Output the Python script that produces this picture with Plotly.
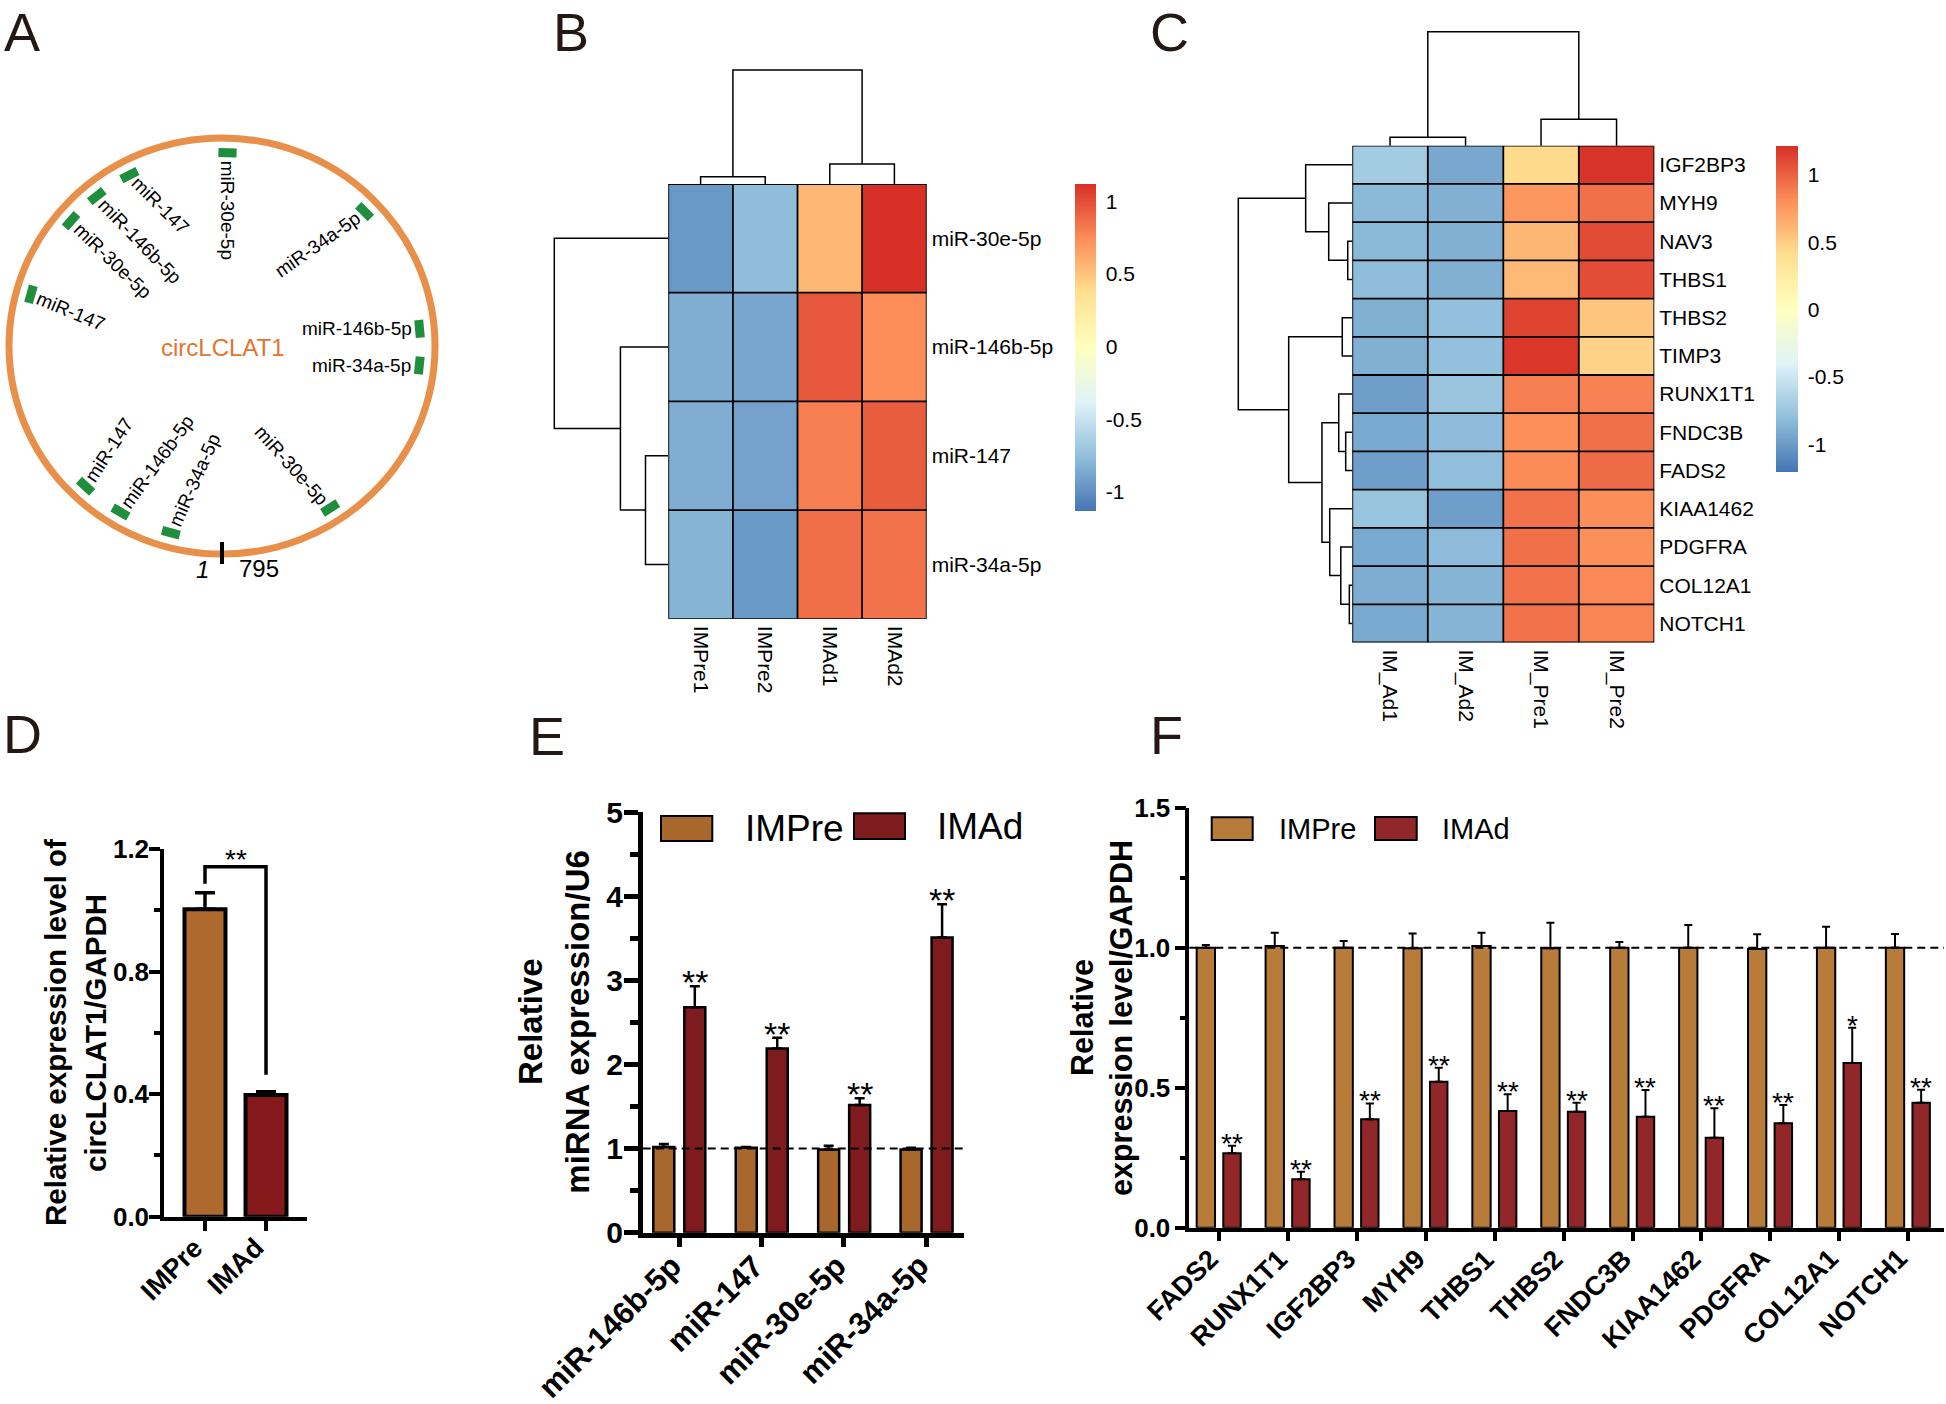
import math
import plotly.graph_objects as go

W, H = 1946, 1404
FONT = "Liberation Sans, Arial, Helvetica, sans-serif"

# ====================== DATA ======================
# Panel A: circRNA map (binding-site positions in nt)
circ_name = "circLCLAT1"
circ_length = 795
site_names = ["miR-34a-5p", "miR-146b-5p", "miR-147", "miR-147", "miR-30e-5p",
              "miR-146b-5p", "miR-147", "miR-30e-5p", "miR-34a-5p", "miR-146b-5p",
              "miR-34a-5p", "miR-30e-5p"]
site_positions = [33, 68, 96, 233, 288, 311, 336, 401, 499, 585, 609, 722]

# Panel B: miRNA heatmap (row z-scores)
b_rows = ["miR-30e-5p", "miR-146b-5p", "miR-147", "miR-34a-5p"]
b_cols = ["IMPre1", "IMPre2", "IMAd1", "IMAd2"]
b_z = [[-0.95, -0.76, 0.55, 1.12],
       [-0.84, -0.88, 0.96, 0.75],
       [-0.84, -0.90, 0.80, 0.94],
       [-0.81, -0.95, 0.87, 0.85]]
b_row_tree = [[2, 3, 0.20], [1, 4, 0.42], [0, 5, 1.00]]
b_col_tree = [[0, 1, 0.064], [2, 3, 0.175], [4, 5, 1.00]]
b_zrange = [-1.13, 1.12]

# Panel C: mRNA heatmap (row z-scores)
c_rows = ["IGF2BP3", "MYH9", "NAV3", "THBS1", "THBS2", "TIMP3", "RUNX1T1",
          "FNDC3B", "FADS2", "KIAA1462", "PDGFRA", "COL12A1", "NOTCH1"]
c_cols = ["IM_Ad1", "IM_Ad2", "IM_Pre1", "IM_Pre2"]
c_z = [[-0.71, -0.93, 0.44, 1.20],
       [-0.83, -0.88, 0.77, 0.94],
       [-0.83, -0.88, 0.61, 1.10],
       [-0.81, -0.88, 0.60, 1.09],
       [-0.88, -0.79, 1.13, 0.54],
       [-0.88, -0.79, 1.19, 0.48],
       [-0.98, -0.75, 0.87, 0.86],
       [-0.92, -0.82, 0.80, 0.94],
       [-0.98, -0.80, 0.82, 0.96],
       [-0.76, -0.98, 0.93, 0.81],
       [-0.92, -0.82, 0.94, 0.80],
       [-0.90, -0.86, 0.93, 0.83],
       [-0.92, -0.86, 0.93, 0.85]]
c_row_tree = [[2, 3, 0.040], [11, 12, 0.026], [7, 8, 0.058], [4, 5, 0.088],
              [10, 14, 0.101], [6, 15, 0.119], [9, 17, 0.198], [1, 13, 0.207],
              [18, 19, 0.266], [0, 20, 0.409], [16, 21, 0.558], [22, 23, 1.0]]
c_col_tree = [[0, 1, 0.074], [2, 3, 0.232], [4, 5, 1.00]]
c_zrange = [-1.204, 1.218]

# Panel D
d_groups = ["IMPre", "IMAd"]
d_mean = [1.003, 0.397]
d_sem = [0.054, 0.011]
d_sig = "**"

# Panel E
e_cats = ["miR-146b-5p", "miR-147", "miR-30e-5p", "miR-34a-5p"]
e_pre_mean = [1.02, 1.01, 0.99, 0.99]
e_pre_sem = [0.035, 0.010, 0.045, 0.020]
e_ad_mean = [2.68, 2.19, 1.52, 3.51]
e_ad_sem = [0.25, 0.13, 0.08, 0.395]
e_sig = ["**", "**", "**", "**"]

# Panel F
f_genes = ["FADS2", "RUNX1T1", "IGF2BP3", "MYH9", "THBS1", "THBS2", "FNDC3B",
           "KIAA1462", "PDGFRA", "COL12A1", "NOTCH1"]
f_pre_mean = [1.000, 1.006, 1.000, 0.998, 1.006, 0.998, 1.000, 1.000, 0.995, 1.000, 1.000]
f_pre_sem = [0.010, 0.047, 0.024, 0.053, 0.047, 0.091, 0.020, 0.081, 0.053, 0.075, 0.049]
f_ad_mean = [0.266, 0.173, 0.387, 0.521, 0.417, 0.414, 0.396, 0.321, 0.373, 0.588, 0.446]
f_ad_sem = [0.027, 0.027, 0.057, 0.050, 0.060, 0.032, 0.096, 0.106, 0.065, 0.126, 0.047]
f_sig = ["**", "**", "**", "**", "**", "**", "**", "**", "**", "*", "**"]

# ====================== STYLE / GEOMETRY ======================
RDYLBU = ['#4575B4', '#91BFDB', '#E0F3F8', '#FFFFBF', '#FEE090', '#FC8D59', '#D73027']
CSCALE = [[i / 6, c] for i, c in enumerate(RDYLBU)]
D_PRE, D_AD = '#AD692E', '#85191C'
E_PRE, E_AD = '#A7672D', '#7E1B1F'
F_PRE, F_AD = '#B77B3A', '#92272A'
# rotation (deg, clockwise) of each site label in panel A, same order as the sites
SITE_LABEL_ANGLE = [-66, -54, -57, 22.5, 44, 46, 45, 90, -35, 0, 0, 48]


def px(x):
    return x / W


def py(y):
    return 1 - y / H


fig = go.Figure()
shapes = []
annotations = []

# ---------------- Panel A ----------------
CX, CY, RX, RY = 222, 346, 213, 208
shapes.append(dict(type='circle', xref='x', yref='y', x0=CX - RX, x1=CX + RX,
                   y0=CY - RY, y1=CY + RY, line=dict(color='#E8904A', width=7),
                   layer='below'))
CW = {'m': .833, 'i': .222, 'R': .722, '-': .333, 'e': .556, 'b': .556,
      'p': .556, 'a': .556}


def twidth(s, size):
    return sum(CW.get(ch, 0.556) for ch in s) * size


seg_x, seg_y = [], []
R_OFF = 14.5
LAB_SIZE = 19
GAP = 8
for k, (name, pos) in enumerate(zip(site_names, site_positions)):
    th = math.radians(270 - pos / circ_length * 360)
    dl = 9.0 / ((RX + RY) / 2 - R_OFF)
    for t in (th - dl, th + dl):
        seg_x.append(CX + (RX - R_OFF) * math.cos(t))
        seg_y.append(CY - (RY - R_OFF) * math.sin(t))
    seg_x.append(None)
    seg_y.append(None)
    rcx = CX + (RX - R_OFF) * math.cos(th)
    rcy = CY - (RY - R_OFF) * math.sin(th)
    ang = SITE_LABEL_ANGLE[k]
    ux, uy = math.cos(math.radians(ang)), math.sin(math.radians(ang))
    if math.cos(th) > 0.1:          # right-hand labels read outwards
        ux, uy = -ux, -uy
    w = twidth(name, LAB_SIZE)
    tx = rcx + (GAP + w / 2) * ux
    ty = rcy + (GAP + w / 2) * uy
    annotations.append(dict(x=tx, y=ty, xref='x', yref='y', text=name, showarrow=False,
                            textangle=ang, xanchor='center', yanchor='middle',
                            font=dict(family=FONT, size=LAB_SIZE, color='black')))
fig.add_trace(go.Scatter(x=seg_x, y=seg_y, mode='lines', xaxis='x', yaxis='y',
                         line=dict(color='#1F8F3E', width=9), hoverinfo='skip',
                         showlegend=False))
# start/end mark
shapes.append(dict(type='line', xref='x', yref='y', x0=CX, x1=CX, y0=CY + RY - 12,
                   y1=CY + RY + 10, line=dict(color='black', width=4)))
annotations.append(dict(x=CX - 11, y=CY + RY + 15, xref='x', yref='y', text='<i>1</i>',
                        showarrow=False, xanchor='right', yanchor='middle',
                        font=dict(family=FONT, size=24, color='black')))
annotations.append(dict(x=CX + 15, y=CY + RY + 14, xref='x', yref='y',
                        text=str(circ_length), showarrow=False, xanchor='left',
                        yanchor='middle', font=dict(family=FONT, size=24, color='black')))
annotations.append(dict(x=CX + 1, y=CY + 1, xref='x', yref='y', text=circ_name,
                        showarrow=False, xanchor='center', yanchor='middle',
                        font=dict(family=FONT, size=24, color='#E3752F')))

# ---------------- Heatmaps + dendrograms ----------------
TREE_H = 114


def dendro(tree, leaf_pos, base, orient):
    pos = list(leaf_pos)
    hts = [0.0] * len(leaf_pos)
    xs, ys = [], []
    for a, b, h in tree:
        pts = [(pos[a], hts[a]), (pos[a], h), (pos[b], h), (pos[b], hts[b])]
        for p, hh in pts:
            if orient == 'top':
                xs.append(p)
                ys.append(base - hh * TREE_H)
            else:
                xs.append(base - hh * TREE_H)
                ys.append(p)
        xs.append(None)
        ys.append(None)
        pos.append((pos[a] + pos[b]) / 2)
        hts.append(h)
    return xs, ys


def add_heatmap(z, rows, cols, rtree, ctree, zr, box, cb, xa, ya):
    x0, x1, y0, y1 = box
    nr, nc = len(rows), len(cols)
    cw, ch = (x1 - x0) / nc, (y1 - y0) / nr
    fig.add_trace(go.Heatmap(
        z=z, x=cols, y=rows, colorscale=CSCALE, zmin=zr[0], zmax=zr[1],
        xaxis=xa, yaxis=ya, hoverinfo='skip',
        colorbar=dict(thickness=cb[2], thicknessmode='pixels', len=cb[3],
                      lenmode='pixels', x=px(cb[0]), xanchor='left', y=py(cb[1]),
                      yanchor='top', xpad=0, ypad=0, outlinewidth=0,
                      tickvals=[-1, -0.5, 0, 0.5, 1],
                      ticktext=['-1', '-0.5', '0', '0.5', '1'],
                      ticks='outside', ticklen=6, tickcolor='rgba(0,0,0,0)',
                      tickfont=dict(family=FONT, size=21, color='black'))))
    ax = 'xaxis' + xa[1:]
    ay = 'yaxis' + ya[1:]
    fig.layout[ax] = dict(domain=[px(x0), px(x1)], range=[-0.5, nc - 0.5], anchor=ya,
                          showgrid=False, zeroline=False, ticks='', tickangle=90,
                          ticklabelstandoff=6, fixedrange=True, automargin=False,
                          tickfont=dict(family=FONT, size=21, color='black'))
    fig.layout[ay] = dict(domain=[py(y1), py(y0)], range=[nr - 0.5, -0.5], anchor=xa,
                          side='right', showgrid=False, zeroline=False, ticks='',
                          ticklabelstandoff=4, fixedrange=True, automargin=False,
                          tickfont=dict(family=FONT, size=21, color='black'))
    for i in range(nc + 1):
        shapes.append(dict(type='line', xref=xa, yref=ya, x0=i - 0.5, x1=i - 0.5,
                           y0=-0.5, y1=nr - 0.5, line=dict(color='black', width=1.8)))
    for j in range(nr + 1):
        shapes.append(dict(type='line', xref=xa, yref=ya, x0=-0.5, x1=nc - 0.5,
                           y0=j - 0.5, y1=j - 0.5, line=dict(color='black', width=1.8)))
    cx_, cy_ = dendro(ctree, [x0 + (i + 0.5) * cw for i in range(nc)], y0, 'top')
    rx_, ry_ = dendro(rtree, [y0 + (j + 0.5) * ch for j in range(nr)], x0, 'left')
    fig.add_trace(go.Scatter(x=cx_ + rx_, y=cy_ + ry_, mode='lines', xaxis='x', yaxis='y',
                             line=dict(color='black', width=1.5), hoverinfo='skip',
                             showlegend=False))


add_heatmap(b_z, b_rows, b_cols, b_row_tree, b_col_tree, b_zrange,
            (668.3, 926.7, 184, 618.8), (1075, 184, 21, 327), 'x2', 'y2')
add_heatmap(c_z, c_rows, c_cols, c_row_tree, c_col_tree, c_zrange,
            (1352.3, 1654.3, 145.7, 642.5), (1776, 145.7, 22, 326), 'x3', 'y3')

# ---------------- Bar charts ----------------


def bar_axes(xa, ya, xdom, ydom, xr, yr, labels, dtick, mdtick, fmt, yfs, xfs, lw, tl,
             mtl, ystand, lab_dx, lab_dy):
    fig.layout['xaxis' + xa[1:]] = dict(
        domain=[px(xdom[0]), px(xdom[1])], range=xr, anchor=ya, showgrid=False,
        zeroline=False, showline=True, linewidth=lw, linecolor='black',
        tickvals=list(range(len(labels))), showticklabels=False, ticks='outside',
        ticklen=10, tickwidth=lw, tickcolor='black', fixedrange=True,
        automargin=False)
    fig.layout['yaxis' + ya[1:]] = dict(
        domain=[py(ydom[1]), py(ydom[0])], range=yr, anchor=xa, showgrid=False,
        zeroline=False, showline=True, linewidth=lw, linecolor='black',
        dtick=dtick, tick0=0, tickformat=fmt, ticks='outside', ticklen=tl,
        tickwidth=lw, tickcolor='black', fixedrange=True, automargin=False,
        ticklabelstandoff=ystand,
        minor=dict(dtick=mdtick, tick0=0, ticks='outside', ticklen=mtl,
                   tickwidth=lw, tickcolor='black'),
        tickfont=dict(family=FONT, size=yfs, color='black', weight='bold'))
    # category labels, rotated 45 degrees, ending just under each tick
    for i, lab in enumerate(labels):
        annotations.append(dict(x=i, y=0, xref=xa, yref=ya + ' domain', text=lab,
                                showarrow=False, textangle=-45, xanchor='right',
                                yanchor='top', xshift=lab_dx, yshift=-lab_dy,
                                font=dict(family=FONT, size=xfs, color='black',
                                          weight='bold')))


# Panel D
fig.add_trace(go.Bar(x=list(range(len(d_groups))), y=d_mean, width=0.672, offset=-0.336,
                     marker=dict(color=[D_PRE, D_AD], line=dict(color='black', width=4)),
                     error_y=dict(type='data', array=d_sem, arrayminus=[0] * len(d_sem),
                                  symmetric=False, color='black', thickness=3.5, width=10),
                     xaxis='x4', yaxis='y4', showlegend=False, hoverinfo='skip'))
bar_axes('x4', 'y4', (164.3, 306.7), (849, 1216.7), [-0.667, 1.667], [0, 1.2], d_groups,
         0.4, 0.2, '.1f', 26, 27, 4, 11, 6, -5, 7, 13)
yl = d_mean[0] + d_sem[0] + 0.03
yr_ = d_mean[1] + d_sem[1] + 0.055
ytop = max(m + s for m, s in zip(d_mean, d_sem)) + 0.085
shapes.append(dict(type='path', xref='x4', yref='y4',
                   path=f"M 0,{yl} L 0,{ytop} L 1,{ytop} L 1,{yr_}",
                   line=dict(color='black', width=3.5)))
annotations.append(dict(x=0.5, y=ytop, xref='x4', yref='y4', text=d_sig, showarrow=False,
                        xanchor='center', yanchor='bottom', yshift=-10,
                        font=dict(family=FONT, size=28, color='black')))

# Panel E
ex = list(range(len(e_cats)))
fig.add_trace(go.Bar(x=ex, y=e_pre_mean, width=0.255, offset=-0.312,
                     marker=dict(color=E_PRE, line=dict(color='black', width=2.5)),
                     error_y=dict(type='data', array=e_pre_sem, arrayminus=[0] * 4,
                                  symmetric=False, color='black', thickness=2.5, width=5),
                     xaxis='x5', yaxis='y5', showlegend=False, hoverinfo='skip'))
fig.add_trace(go.Bar(x=ex, y=e_ad_mean, width=0.255, offset=0.064,
                     marker=dict(color=E_AD, line=dict(color='black', width=2.5)),
                     error_y=dict(type='data', array=e_ad_sem, arrayminus=[0] * 4,
                                  symmetric=False, color='black', thickness=2.5, width=5),
                     xaxis='x5', yaxis='y5', showlegend=False, hoverinfo='skip'))
bar_axes('x5', 'y5', (642.7, 964.3), (812.3, 1232.7), [-0.4405, 3.461], [0, 5], e_cats,
         1, 0.5, 'd', 30, 31, 4.5, 14, 8, -5, 12, 13)
for i, s in enumerate(e_sig):
    annotations.append(dict(x=i + 0.064 + 0.1275, y=e_ad_mean[i] + e_ad_sem[i], xref='x5',
                            yref='y5', text=s, showarrow=False, xanchor='center',
                            yanchor='bottom', yshift=-17,
                            font=dict(family=FONT, size=34, color='black')))
shapes.append(dict(type='line', xref='x5 domain', yref='y5', x0=0, x1=1, y0=1, y1=1,
                   line=dict(color='black', width=2, dash='8px,5px')))

# Panel F
fx = list(range(len(f_genes)))
nf = len(f_genes)
fig.add_trace(go.Bar(x=fx, y=f_pre_mean, width=0.266, offset=-0.324,
                     marker=dict(color=F_PRE, line=dict(color='black', width=2)),
                     error_y=dict(type='data', array=f_pre_sem, arrayminus=[0] * nf,
                                  symmetric=False, color='black', thickness=2, width=4),
                     xaxis='x6', yaxis='y6', showlegend=False, hoverinfo='skip'))
fig.add_trace(go.Bar(x=fx, y=f_ad_mean, width=0.253, offset=0.062,
                     marker=dict(color=F_AD, line=dict(color='black', width=2)),
                     error_y=dict(type='data', array=f_ad_sem, arrayminus=[0] * nf,
                                  symmetric=False, color='black', thickness=2, width=4),
                     xaxis='x6', yaxis='y6', showlegend=False, hoverinfo='skip'))
bar_axes('x6', 'y6', (1189.3, 1944), (807.7, 1227.7), [-0.431, 10.52], [0, 1.5], f_genes,
         0.5, 0.25, '.1f', 26, 27, 3.5, 11, 6, -1, 8, 13)
for i, s in enumerate(f_sig):
    annotations.append(dict(x=i + 0.062 + 0.1265, y=f_ad_mean[i] + f_ad_sem[i], xref='x6',
                            yref='y6', text=s, showarrow=False, xanchor='center',
                            yanchor='bottom', yshift=-15,
                            font=dict(family=FONT, size=28, color='black')))
shapes.append(dict(type='line', xref='x6 domain', yref='y6', x0=0, x1=1, y0=1, y1=1,
                   line=dict(color='black', width=2, dash='8px,5px')))

# Legends (E, F)
for (rx0, ry0, rx1, ry1, col, label, tx, fs) in [
        (661, 816, 712.3, 841, E_PRE, 'IMPre', 742.7, 37),
        (854, 813.3, 905, 839, E_AD, 'IMAd', 935, 37),
        (1211.7, 817.3, 1252.7, 840, F_PRE, 'IMPre', 1276.7, 29),
        (1375, 817, 1416.7, 840, F_AD, 'IMAd', 1440, 29)]:
    shapes.append(dict(type='rect', xref='paper', yref='paper', x0=px(rx0), x1=px(rx1),
                       y0=py(ry1), y1=py(ry0), fillcolor=col,
                       line=dict(color='black', width=2)))
    annotations.append(dict(x=px(tx), y=py((ry0 + ry1) / 2), xref='paper', yref='paper',
                            text=label, showarrow=False, xanchor='left', yanchor='middle',
                            font=dict(family=FONT, size=fs, color='black')))

# Y-axis titles
for (x, y, t, fs) in [(55, 1033, 'Relative expression level of', 29.5),
                      (95, 1033, 'circLCLAT1/GAPDH', 29.5),
                      (530, 1022, 'Relative', 33),
                      (576.7, 1022, 'miRNA expression/U6', 33),
                      (1082, 1018, 'Relative', 30.5),
                      (1121, 1018, 'expression level/GAPDH', 30.5)]:
    annotations.append(dict(x=px(x), y=py(y), xref='paper', yref='paper', text=t,
                            showarrow=False, textangle=-90, xanchor='center',
                            yanchor='middle',
                            font=dict(family=FONT, size=fs, color='black', weight='bold')))

# Panel letters
for (x, t) in [(22, 'A'), (571, 'B'), (1169, 'C')]:
    annotations.append(dict(x=px(x), y=1, xref='paper', yref='paper', text=t,
                            showarrow=False, xanchor='center', yanchor='top',
                            font=dict(family=FONT, size=54, color='#231815')))
for (x, y, t) in [(22, 734, 'D'), (547, 736, 'E'), (1166, 735, 'F')]:
    annotations.append(dict(x=px(x), y=py(y), xref='paper', yref='paper', text=t,
                            showarrow=False, xanchor='center', yanchor='middle',
                            font=dict(family=FONT, size=54, color='#231815')))

fig.update_layout(
    template='none',
    width=W, height=H, autosize=False, margin=dict(l=0, r=0, t=0, b=0, pad=0),
    paper_bgcolor='white', plot_bgcolor='rgba(0,0,0,0)', barmode='overlay',
    showlegend=False, shapes=shapes, annotations=annotations,
    xaxis=dict(domain=[0, 1], range=[0, W], visible=False, fixedrange=True,
               automargin=False),
    yaxis=dict(domain=[0, 1], range=[H, 0], visible=False, fixedrange=True,
               automargin=False),
    font=dict(family=FONT, color='black'))

fig.write_html("out.html", config={'displayModeBar': False},
               post_script="document.body.style.margin='0px';document.body.style.overflow='hidden';")
